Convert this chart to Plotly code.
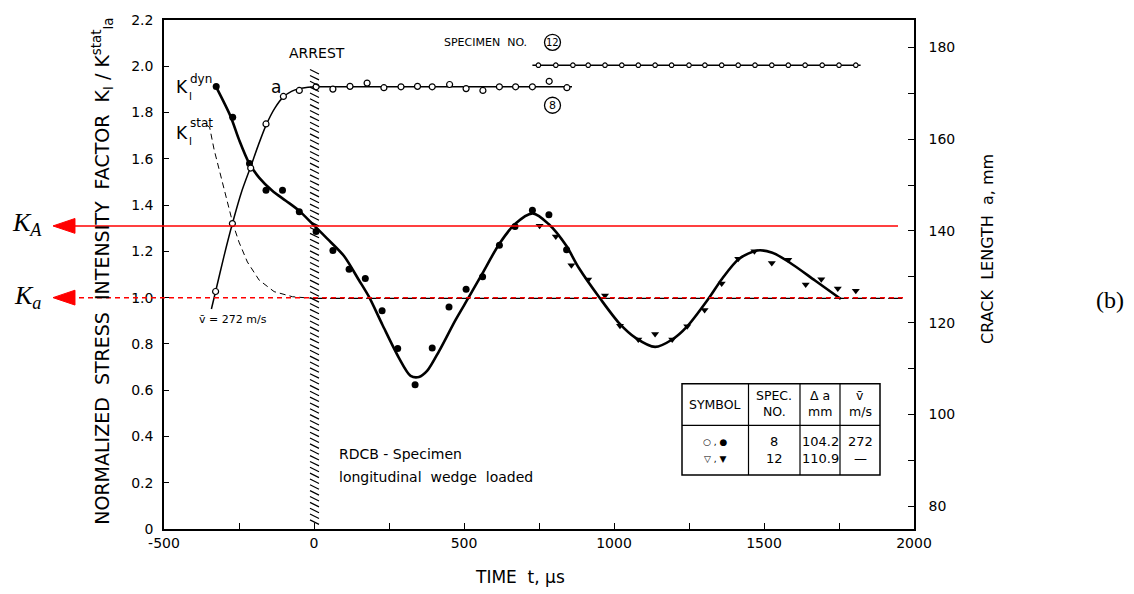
import plotly.graph_objects as go

# ---------------- data ----------------
# Specimen 8 : K_I^dyn / K_Ia^stat  (filled circles)
t_k8 = [-326, -271, -215, -160, -105, -49, 7, 63, 117, 171, 227, 279, 337, 394,
        450, 507, 562, 618, 670, 728, 783, 842]
k8 = [1.913, 1.780, 1.580, 1.464, 1.464, 1.371, 1.286, 1.204, 1.123, 1.083, 0.943,
      0.780, 0.624, 0.782, 0.959, 1.036, 1.090, 1.226, 1.307, 1.378, 1.358, 1.207]

# Specimen 12 : K_I^dyn / K_Ia^stat  (filled triangles)
t_k12 = [752, 806, 858, 914, 970, 1020, 1081, 1137, 1194, 1244, 1302, 1359, 1414,
         1468, 1526, 1581, 1639, 1691, 1746, 1806]
k12 = [1.311, 1.264, 1.140, 1.078, 1.009, 0.879, 0.819, 0.843, 0.819, 0.876, 0.947,
       1.061, 1.168, 1.200, 1.150, 1.164, 1.057, 1.080, 1.040, 1.030]

# fitted K_I^dyn curve
t_kfit = [-328, -278, -250, -217, -183, -139, -94, -50, 0, 44, 100, 150, 183, 228,
          283, 322, 350, 377, 417, 472, 517, 561, 618, 670, 729, 782, 840, 883, 955,
          1017, 1072, 1137, 1194, 1244, 1314, 1361, 1417, 1478, 1528, 1583, 1670, 1756]
k_fit = [1.915, 1.783, 1.683, 1.583, 1.519, 1.462, 1.419, 1.376, 1.312, 1.255, 1.180,
         1.075, 1.004, 0.883, 0.740, 0.662, 0.657, 0.683, 0.769, 0.904, 1.004, 1.104,
         1.233, 1.318, 1.364, 1.318, 1.226, 1.128, 0.994, 0.890, 0.826, 0.787, 0.819,
         0.876, 0.994, 1.083, 1.168, 1.204, 1.194, 1.154, 1.074, 0.994]

# K_I^stat curve (dashed) and its asymptote K = K_Ia
t_kstat = [-357, -348, -333, -311, -289, -270, -250, -222, -183, -133, -72, -6]
k_stat = [1.745, 1.737, 1.640, 1.525, 1.411, 1.318, 1.240, 1.154, 1.076, 1.026, 1.004, 0.997]
t_kasym = [-6, 1967]
k_asym = [0.997, 0.997]

# Crack length, specimen 8 (open circles, mm)
t_a8 = [-328, -272, -211, -160, -102, -49, 7, 63, 120, 177, 233, 290, 345, 394,
        452, 507, 563, 618, 672, 728, 784, 843]
a8 = [126.8, 141.6, 153.7, 163.3, 169.3, 170.6, 171.4, 170.9, 171.5, 172.2, 171.2,
      171.4, 171.5, 171.4, 171.9, 171.0, 170.6, 171.4, 171.4, 171.4, 172.6, 171.2]
t_a8fit = [-342, -328, -300, -272, -240, -211, -185, -160, -130, -102, -75, -49, -20, 7, 100, 860]
a8_fit = [123.0, 126.8, 134.5, 141.6, 148.8, 154.0, 158.8, 163.0, 166.8, 169.2, 170.4,
          171.0, 171.3, 171.4, 171.4, 171.4]

# Crack length, specimen 12 (small open symbols, mm)
t_a12 = [748, 806, 863, 914, 970, 1026, 1081, 1137, 1192, 1250, 1303, 1359, 1414,
         1470, 1526, 1581, 1637, 1694, 1750, 1806]
a12 = [176.1, 176.1, 176.1, 176.1, 176.1, 176.1, 176.1, 176.1, 176.1, 176.1, 176.1,
       176.1, 176.1, 176.1, 176.1, 176.1, 176.1, 176.1, 176.1, 176.1]
t_a12fit = [728, 1822]
a12_fit = [176.1, 176.1]

# reference levels
K_A = 1.31
K_a = 1.0

# axes ticks
x_ticks = [-500, 0, 500, 1000, 1500, 2000]
x_ticktext = ["-500", "0", "500", "1000", "1500", "2000"]
y_ticks = [0, 0.2, 0.4, 0.6, 0.8, 1.0, 1.2, 1.4, 1.6, 1.8, 2.0, 2.2]
y_ticktext = ["0", "0.2", "0.4", "0.6", "0.8", "1.0", "1.2", "1.4", "1.6", "1.8", "2.0", "2.2"]
y2_ticks = [80, 100, 120, 140, 160, 180]
y2_ticktext = ["80", "100", "120", "140", "160", "180"]

# table contents
tbl_header = [["SYMBOL"], ["SPEC.", "NO."], ["Δ a", "mm"], ["v̄", "m/s"]]
tbl_rows = [["○ , ●", "8", "104.2", "272"], ["▽ , ▼", "12", "110.9", "—"]]

# ---------------- geometry helpers ----------------
W, H = 1134, 594
PL, PR, PT, PB = 164, 914, 16, 529.5
XMIN, XMAX = -500, 2000
YMIN, YMAX = 0, 2.2
Y2MIN, Y2MAX = 75.06, 185.95


def tx(px):
    return XMIN + (px - PL) / (PR - PL) * (XMAX - XMIN)


def ky(py):
    return YMIN + (PB - py) / (PB - PT) * (YMAX - YMIN)


def xp(px):
    return (px - PL) / (PR - PL)


def yp(py):
    return (PB - py) / (PB - PT)


FONT = "DejaVu Sans"
SERIF = "Liberation Serif"
SP = "&nbsp;"

fig = go.Figure()

fig.add_trace(go.Scatter(x=t_kstat, y=k_stat, mode="lines",
                         line=dict(color="black", width=1, dash="6px,4px"), showlegend=False))
fig.add_trace(go.Scatter(x=t_kasym, y=k_asym, mode="lines",
                         line=dict(color="black", width=1.3, dash="14px,4px"), showlegend=False))
fig.add_trace(go.Scatter(x=t_kfit, y=k_fit, mode="lines",
                         line=dict(color="black", width=2.6, shape="spline", smoothing=0.8),
                         showlegend=False))
fig.add_trace(go.Scatter(x=t_k8, y=k8, mode="markers",
                         marker=dict(symbol="circle", size=7, color="black"), showlegend=False))
fig.add_trace(go.Scatter(x=t_k12, y=k12, mode="markers",
                         marker=dict(symbol="triangle-down", size=7, color="black"), showlegend=False))
fig.add_trace(go.Scatter(x=t_a8fit, y=a8_fit, mode="lines", yaxis="y2",
                         line=dict(color="black", width=1.5, shape="spline", smoothing=0.7),
                         showlegend=False))
fig.add_trace(go.Scatter(x=t_a8, y=a8, mode="markers", yaxis="y2",
                         marker=dict(symbol="circle", size=6, color="white",
                                     line=dict(color="black", width=1.2)), showlegend=False))
fig.add_trace(go.Scatter(x=t_a12fit, y=a12_fit, mode="lines", yaxis="y2",
                         line=dict(color="black", width=1.4), showlegend=False))
fig.add_trace(go.Scatter(x=t_a12, y=a12, mode="markers", yaxis="y2",
                         marker=dict(symbol="circle", size=4.5, color="white",
                                     line=dict(color="black", width=1.2)), showlegend=False))

shapes = []
# ARREST hatching
path = ""
k = 0.02
while k < 1.98:
    path += "M %.2f %.4f L %.2f %.4f " % (tx(310), k + 4.5 / 233.4, tx(319), k)
    k += 5.9 / 233.4
shapes.append(dict(type="path", path=path, xref="x", yref="y",
                   line=dict(color="black", width=1.2), layer="above"))

# red reference lines + arrow heads
shapes.append(dict(type="line", xref="paper", yref="y", x0=xp(70), x1=xp(898), y0=K_A, y1=K_A,
                   line=dict(color="#ff0000", width=1.5), layer="above"))
shapes.append(dict(type="line", xref="paper", yref="y", x0=xp(70), x1=xp(905), y0=K_a, y1=K_a,
                   line=dict(color="#ff0000", width=1.5, dash="5px,4px"), layer="above"))
for kv in (K_A, K_a):
    dy = 7.5 / 233.4
    shapes.append(dict(type="path", xref="paper", yref="y",
                       path="M %.4f %.4f L %.4f %.4f L %.4f %.4f Z" % (
                           xp(53), kv, xp(75), kv + dy, xp(75), kv - dy),
                       fillcolor="#ff0000", line=dict(color="#ff0000", width=1), layer="above"))

# circled specimen numbers
for (cx, cy) in ((552.5, 38.5), (552.5, 102)):
    shapes.append(dict(type="circle", xref="x", yref="y", xsizemode="pixel", ysizemode="pixel",
                       xanchor=tx(cx), yanchor=ky(cy), x0=-8, x1=8, y0=-8, y1=8,
                       line=dict(color="black", width=1.3)))

# table frame
tx0, tx1, ty0, ty1 = 682, 880, 383, 475
shapes.append(dict(type="rect", xref="paper", yref="paper", x0=xp(tx0), x1=xp(tx1),
                   y0=yp(ty1), y1=yp(ty0), line=dict(color="black", width=1.5), fillcolor="white"))
for vx in (748.5, 800, 840):
    shapes.append(dict(type="line", xref="paper", yref="paper", x0=xp(vx), x1=xp(vx),
                       y0=yp(ty1), y1=yp(ty0), line=dict(color="black", width=1.2)))
shapes.append(dict(type="line", xref="paper", yref="paper", x0=xp(tx0), x1=xp(tx1),
                   y0=yp(425), y1=yp(425), line=dict(color="black", width=1.2)))

ann = []


def A(text, px, py, size=14, family=FONT, xanchor="center", angle=0):
    ann.append(dict(text=text, x=xp(px), y=yp(py), xref="paper", yref="paper",
                    showarrow=False, xanchor=xanchor, yanchor="middle", textangle=angle,
                    font=dict(family=family, size=size, color="black")))


# axis titles
A("NORMALIZED" + SP * 2 + "STRESS" + SP * 2 + "INTENSITY" + SP * 2 + "FACTOR" + SP * 2
  + "K<sub>I</sub> / K<sup>stat</sup><sub>Ia</sub>", 103, 270, size=19, angle=-90)
A("CRACK" + SP * 2 + "LENGTH" + SP * 2 + "a, mm", 988, 247, size=16, angle=-90)
A("TIME" + SP * 2 + "t, µs", 520, 578, size=17)
A("(b)", 1110, 298, size=24, family=SERIF)
A("<i>K<sub>A</sub></i>", 27, 222, size=26, family=SERIF)
A("<i>K<sub>a</sub></i>", 27, 295, size=26, family=SERIF)

# in-plot labels
A("ARREST", 317, 49, size=14)
A("SPECIMEN" + SP * 2 + "NO.", 442, 39, size=11, xanchor="left")
A("12", 552.5, 38.5, size=10)
A("8", 552.5, 102, size=11)
A("K", 181.5, 84, size=17)
A("dyn", 188, 76, size=12, xanchor="left")
A("I", 190.5, 93, size=10)
A("K", 181.5, 130, size=17)
A("stat", 188, 120, size=12, xanchor="left")
A("I", 190.5, 139, size=10)
A("a", 276, 84, size=17)
A("v̄ = 272 m/s", 233, 318, size=11)
A("RDCB - Specimen", 337, 454, size=14, xanchor="left")
A("longitudinal" + SP * 2 + "wedge" + SP * 2 + "loaded", 337, 477, size=14, xanchor="left")

# table text
col_cx = [715, 774.3, 820, 860]
A(tbl_header[0][0], col_cx[0], 404, size=12.5)
for ci in (1, 2, 3):
    A(tbl_header[ci][0], col_cx[ci], 395, size=12.5)
    A(tbl_header[ci][1], col_cx[ci], 411, size=12.5)
for ri, row in enumerate(tbl_rows):
    ry = 441.5 + ri * 17
    for ci, txt in enumerate(row):
        A(txt, col_cx[ci], ry, size=9 if ci == 0 else 13)

fig.update_layout(
    width=W, height=H,
    margin=dict(l=PL, r=W - PR, t=PT, b=H - PB),
    paper_bgcolor="white", plot_bgcolor="white",
    showlegend=False,
    font=dict(family=FONT, color="black"),
    xaxis=dict(range=[XMIN, XMAX], tickvals=x_ticks, ticktext=x_ticktext, ticks="inside",
               ticklen=6, tickcolor="black", showline=True, mirror=True, linecolor="black",
               linewidth=1.5, showgrid=False, zeroline=False, tickfont=dict(size=14),
               minor=dict(ticks="inside", ticklen=6, tickcolor="black", dtick=250,
                          tick0=-500, showgrid=False)),
    yaxis=dict(range=[YMIN, YMAX], tickvals=y_ticks, ticktext=y_ticktext, ticks="inside",
               ticklen=5, tickcolor="black", showline=True, linecolor="black", linewidth=1.5,
               showgrid=False, zeroline=False, tickfont=dict(size=14), ticklabelstandoff=6),
    yaxis2=dict(range=[Y2MIN, Y2MAX], overlaying="y", side="right", tickvals=y2_ticks,
                ticktext=y2_ticktext, ticks="inside", ticklen=6, tickcolor="black",
                showline=True, linecolor="black", linewidth=1.5, showgrid=False,
                zeroline=False, tickfont=dict(size=14), ticklabelstandoff=10,
                minor=dict(ticks="inside", ticklen=6, tickcolor="black", dtick=10,
                           tick0=80, showgrid=False)),
    shapes=shapes,
    annotations=ann,
)

fig.write_html("out.html", config={"displayModeBar": False},
               post_script="document.body.style.margin='0';document.body.style.padding='0';")
